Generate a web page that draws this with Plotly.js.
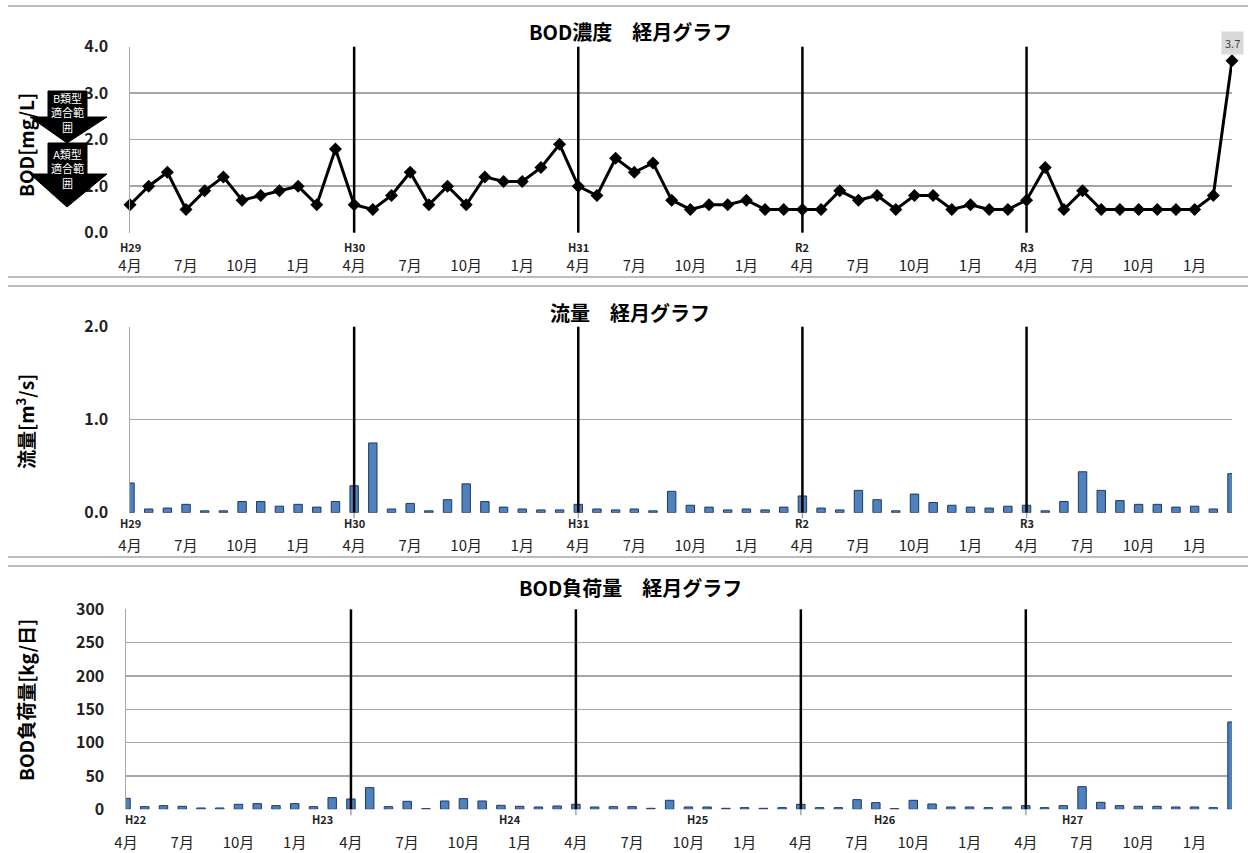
<!DOCTYPE html>
<html>
<head>
<meta charset="utf-8">
<script src="https://cdn.plot.ly/plotly-3.0.1.min.js"></script>
<style>
html,body{margin:0;padding:0;background:#fff;}
#chart{width:1248px;height:853px;}
</style>
</head>
<body>
<div id="chart"></div>
<script>
// ---- data ----
const eras = ['H29', 'H30', 'H31', 'R2', 'R3'];
const monthsOfYear = [4, 5, 6, 7, 8, 9, 10, 11, 12, 1, 2, 3];
const tickMonths = [4, 7, 10, 1];

// BOD濃度 [mg/L]
const bodConc = [
  0.6, 1.0, 1.3, 0.5, 0.9, 1.2, 0.7, 0.8, 0.9, 1.0, 0.6, 1.8,
  0.6, 0.5, 0.8, 1.3, 0.6, 1.0, 0.6, 1.2, 1.1, 1.1, 1.4, 1.9,
  1.0, 0.8, 1.6, 1.3, 1.5, 0.7, 0.5, 0.6, 0.6, 0.7, 0.5, 0.5,
  0.5, 0.5, 0.9, 0.7, 0.8, 0.5, 0.8, 0.8, 0.5, 0.6, 0.5, 0.5,
  0.7, 1.4, 0.5, 0.9, 0.5, 0.5, 0.5, 0.5, 0.5, 0.5, 0.8, 3.7
];
// 流量 [m3/s]
const flow = [
  0.32, 0.04, 0.05, 0.09, 0.02, 0.02, 0.12, 0.12, 0.07, 0.09, 0.06, 0.12,
  0.29, 0.75, 0.04, 0.10, 0.02, 0.14, 0.31, 0.12, 0.06, 0.04, 0.03, 0.03,
  0.09, 0.04, 0.03, 0.04, 0.02, 0.23, 0.08, 0.06, 0.03, 0.04, 0.03, 0.06,
  0.18, 0.05, 0.03, 0.24, 0.14, 0.02, 0.20, 0.11, 0.08, 0.06, 0.05, 0.07,
  0.08, 0.02, 0.12, 0.44, 0.24, 0.13, 0.09, 0.09, 0.06, 0.07, 0.04, 0.42
];
// BOD負荷量 [kg/日]
const bodLoad = [
  16.5, 4, 5.5, 4.5, 2, 2, 7.5, 8.5, 5.5, 8.5, 4, 17.5,
  15.5, 32.5, 4, 12, 1, 12.5, 16, 12.5, 6, 4.5, 3.5, 5,
  7.5, 3.5, 4, 4, 1.5, 13.5, 3.5, 3.5, 1.5, 2.5, 1.5, 2.5,
  7.5, 2.5, 2.5, 14.5, 10, 1, 13.5, 8, 3.5, 3.5, 2.5, 3.5,
  5.5, 2.5, 5.5, 34, 10.5, 5.5, 4.5, 4.5, 3.5, 3.5, 2.5, 131
];
// era labels printed on the load chart and the category positions they sit at
const loadEraLabels = ['H22', 'H23', 'H24', 'H25', 'H26', 'H27'];
const loadEraAt = [0.5, 10.5, 20.5, 30.5, 40.5, 50.5];

// ---- derived ----
const cats = [];
eras.forEach(e => monthsOfYear.forEach(m => cats.push({era: e, month: m})));
const idx = cats.map((c, i) => i);
const tickVals = idx.filter(i => tickMonths.includes(cats[i].month));
const tickText = tickVals.map(i => cats[i].month + '月');
const aprilIdx = idx.filter(i => cats[i].month === 4);
const yearStarts = aprilIdx.filter(i => i > 0);

// ---- geometry helpers (pixel -> paper) ----
const W = 1248, H = 853;
const px = x => x / W;
const py = y => 1 - y / H;

const FONT = '"Noto Sans CJK JP", "Noto Sans", sans-serif';
const GRID = '#a6a6a6';

const P = [
  {x0: 130, x1: 1232, y0: 46.7, y1: 232.7},
  {x0: 130, x1: 1232, y0: 326.7, y1: 512.7},
  {x0: 126, x1: 1232, y0: 609.3, y1: 809.3}
];

function xax(p, anchor, standoff) {
  return {
    domain: [px(p.x0), px(p.x1)], anchor: anchor, range: [0, idx.length - 1],
    showgrid: false, zeroline: false, showline: false, fixedrange: true,
    tickmode: 'array', tickvals: tickVals, ticktext: tickText, ticks: '',
    ticklabelstandoff: standoff,
    tickfont: {family: FONT, size: 15, color: '#222'}
  };
}
function yax(p, anchor, range, dtick, fmt) {
  return {
    domain: [py(p.y1), py(p.y0)], anchor: anchor, range: range, dtick: dtick,
    tickformat: fmt, showgrid: true, gridcolor: GRID, gridwidth: 1.5,
    zeroline: false, showline: true, linecolor: GRID, linewidth: 1.5,
    ticks: '', ticklabelstandoff: 17, fixedrange: true,
    tickfont: {family: FONT, size: 16, color: '#222', weight: 'bold'}
  };
}

const barStyle = {color: '#4f81bd', line: {color: '#1f3864', width: 1}};

const traces = [
  {type: 'scatter', x: idx, y: bodConc, xaxis: 'x', yaxis: 'y', mode: 'lines+markers',
   line: {color: '#000', width: 3}, marker: {symbol: 'diamond', size: 10, color: '#000'},
   cliponaxis: false, hoverinfo: 'skip'},
  {type: 'bar', x: idx, y: flow, xaxis: 'x2', yaxis: 'y2', width: 0.45, marker: barStyle, hoverinfo: 'skip'},
  {type: 'bar', x: idx, y: bodLoad, xaxis: 'x3', yaxis: 'y3', width: 0.45, marker: barStyle, hoverinfo: 'skip'}
];

const shapes = [];
// separators
[6, 277, 286, 557, 566].forEach(y => shapes.push({
  type: 'line', xref: 'paper', yref: 'paper', x0: px(8), x1: 1, y0: py(y), y1: py(y),
  line: {color: GRID, width: 1.5}
}));
// year-start vertical lines
['', '2', '3'].forEach(s => yearStarts.forEach(i => shapes.push({
  type: 'line', xref: 'x' + s, yref: 'y' + s + ' domain', x0: i, x1: i, y0: 0, y1: 1,
  line: {color: '#000', width: 2.5}
})));
// small tick marks at April on the lower two charts
['2', '3'].forEach(s => yearStarts.forEach(i => shapes.push({
  type: 'line', xref: 'x' + s, yref: 'y' + s + ' domain', x0: i, x1: i, y0: 0, y1: -0.03,
  line: {color: GRID, width: 1.5}
})));
// arrows (B類型 / A類型 適合範囲)
function arrowPath(top, neck, tip) {
  const pts = [[48, top], [87, top], [87, neck], [107, neck], [67, tip], [30, neck], [48, neck]];
  return 'M' + pts.map(p => px(p[0]) + ',' + py(p[1])).join(' L') + ' Z';
}
shapes.push({type: 'path', xref: 'paper', yref: 'paper', path: arrowPath(91, 117, 143),
  fillcolor: '#000', line: {color: '#000', width: 1}});
shapes.push({type: 'path', xref: 'paper', yref: 'paper', path: arrowPath(143, 174, 207),
  fillcolor: '#000', line: {color: '#000', width: 1}});

const ann = [];
// titles
[['BOD濃度　経月グラフ', 32], ['流量　経月グラフ', 312], ['BOD負荷量　経月グラフ', 587]].forEach(t => ann.push({
  text: '<b>' + t[0] + '</b>', xref: 'paper', yref: 'paper', x: px(630), y: py(t[1]),
  xanchor: 'center', yanchor: 'middle', showarrow: false,
  font: {family: FONT, size: 20, color: '#000'}
}));
// y-axis titles
[['BOD[mg/L]', 145], ['流量[m<sup>3</sup>/s]', 422], ['BOD負荷量[kg/日]', 700]].forEach(t => ann.push({
  text: '<b>' + t[0] + '</b>', xref: 'paper', yref: 'paper', x: px(25), y: py(t[1]),
  xanchor: 'center', yanchor: 'middle', textangle: -90, showarrow: false,
  font: {family: FONT, size: 19, color: '#000'}
}));
// arrow texts
[['B類型<br>適合範<br>囲', 113], ['A類型<br>適合範<br>囲', 168]].forEach(t => ann.push({
  text: t[0], xref: 'paper', yref: 'paper', x: px(67), y: py(t[1]),
  xanchor: 'center', yanchor: 'middle', showarrow: false,
  font: {family: FONT, size: 11, color: '#fff'}
}));
// era labels (panel 1 & 2 at April)
[['', 14, 11], ['2', 10, 11]].forEach(a => aprilIdx.forEach(i => ann.push({
  text: '<b>' + cats[i].era + '</b>', xref: 'x' + a[0], yref: 'y' + a[0] + ' domain', x: i, y: 0,
  xanchor: 'center', yanchor: 'middle', yshift: -a[1], showarrow: false,
  font: {family: FONT, size: a[2], color: '#222'}
})));
// era labels (panel 3)
loadEraLabels.forEach((l, k) => ann.push({
  text: '<b>' + l + '</b>', xref: 'x3', yref: 'y3 domain', x: loadEraAt[k], y: 0,
  xanchor: 'center', yanchor: 'middle', yshift: -10, showarrow: false,
  font: {family: FONT, size: 11, color: '#222'}
}));
// data label for last point
const last = bodConc.length - 1;
ann.push({
  text: bodConc[last].toFixed(1), xref: 'x', yref: 'y', x: last, y: 4,
  xanchor: 'center', yanchor: 'middle', yshift: 4, showarrow: false,
  bgcolor: '#d9d9d9', borderpad: 3,
  font: {family: FONT, size: 11, color: '#404040'}
});

const layout = {
  width: W, height: H, margin: {l: 0, r: 0, t: 0, b: 0},
  paper_bgcolor: '#fff', plot_bgcolor: '#fff', showlegend: false,
  font: {family: FONT},
  xaxis: xax(P[0], 'y', 22), yaxis: yax(P[0], 'x', [0, 4], 1, '.1f'),
  xaxis2: xax(P[1], 'y2', 22), yaxis2: yax(P[1], 'x2', [0, 2], 1, '.1f'),
  xaxis3: xax(P[2], 'y3', 23), yaxis3: yax(P[2], 'x3', [0, 300], 50, 'd'),
  shapes: shapes, annotations: ann, bargap: 0
};

Plotly.newPlot('chart', traces, layout, {displayModeBar: false, staticPlot: true});
</script>
</body>
</html>
